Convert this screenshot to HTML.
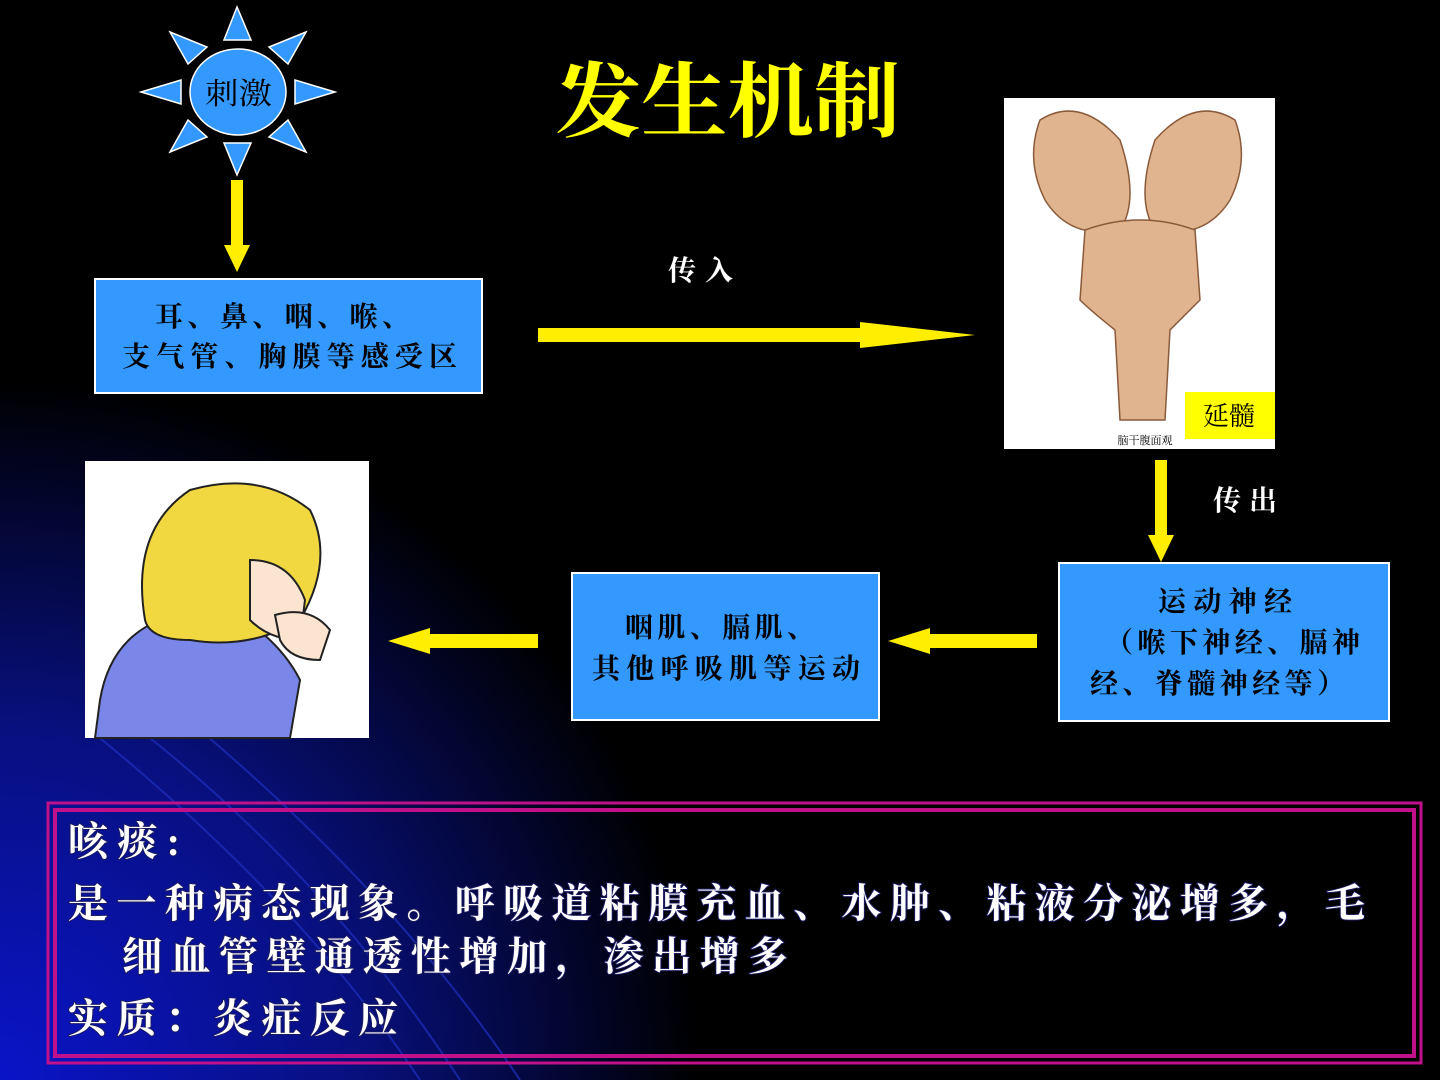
<!DOCTYPE html>
<html><head><meta charset="utf-8"><style>
body{margin:0;width:1440px;height:1080px;overflow:hidden;background:#000;}
svg{display:block}
text{font-family:"Liberation Serif","Noto Serif CJK SC",serif;}
</style></head><body>
<svg width="1440" height="1080" viewBox="0 0 1440 1080">
<defs>
<radialGradient id="bg" cx="0" cy="1080" r="700" gradientUnits="userSpaceOnUse">
<stop offset="0" stop-color="#0a14c8"/><stop offset="0.5" stop-color="#081080"/><stop offset="1" stop-color="#000"/>
</radialGradient>
</defs>
<rect width="1440" height="1080" fill="#000"/>
<rect width="1440" height="1080" fill="url(#bg)"/>
<g fill="none" stroke="#2030c0" stroke-width="2" opacity="0.7">
<path d="M90 730 Q300 900 420 1080"/><path d="M140 730 Q330 880 460 1080"/><path d="M200 730 Q400 900 520 1080"/>
</g>
<!-- sun -->
<g fill="#3399ff" stroke="#fff" stroke-width="1.5">
<polygon points="237,7 224,40 251,40"/>
<polygon points="237,175 224,143 251,143"/>
<polygon points="141,92 181,80 181,104"/>
<polygon points="335,92 295,80 295,104"/>
<polygon points="170,32 207,47 188,64"/>
<polygon points="306,32 269,47 288,64"/>
<polygon points="170,152 207,137 188,120"/>
<polygon points="306,152 269,137 288,120"/>
<ellipse cx="238" cy="92" rx="48" ry="43"/>
</g>
<text x="205" y="104" font-size="30" fill="#000" textLength="67" lengthAdjust="spacingAndGlyphs">刺激</text>
<!-- title -->
<text x="555" y="130" font-size="82" font-weight="bold" fill="#ffff00" font-family="'Liberation Sans','Noto Sans CJK SC',sans-serif" textLength="345" lengthAdjust="spacingAndGlyphs">发生机制</text>
<!-- arrows -->
<g fill="#ffee00">
<rect x="231" y="180" width="12" height="65"/><polygon points="224,245 250,245 237,272"/>
<rect x="538" y="328" width="325" height="14"/><polygon points="860,322 975,335 860,348"/>
<rect x="1155" y="460" width="12" height="75"/><polygon points="1148,535 1174,535 1161,562"/>
<rect x="930" y="634" width="107" height="14"/><polygon points="930,628 888,641 930,654"/>
<rect x="430" y="634" width="108" height="14"/><polygon points="430,628 388,641 430,654"/>
</g>
<text x="668" y="280" font-size="28" fill="#fff" font-weight="bold" textLength="65">传入</text>
<text x="1213" y="510" font-size="28" fill="#fff" font-weight="bold" textLength="64">传出</text>
<!-- boxes -->
<g font-weight="bold" fill="#000" font-size="28">
<rect x="95" y="279" width="387" height="114" fill="#3399ff" stroke="#fff" stroke-width="2"/>
<text x="155" y="326" textLength="255">耳、鼻、咽、喉、</text>
<text x="122" y="366" textLength="335">支气管、胸膜等感受区</text>
<rect x="572" y="573" width="307" height="147" fill="#3399ff" stroke="#fff" stroke-width="2"/>
<text x="625" y="637" textLength="190">咽肌、膈肌、</text>
<text x="592" y="678" textLength="268">其他呼吸肌等运动</text>
<rect x="1059" y="563" width="330" height="158" fill="#3399ff" stroke="#fff" stroke-width="2"/>
<text x="1158" y="611" textLength="134">运动神经</text>
<text x="1105" y="652" textLength="255">（喉下神经、膈神</text>
<text x="1090" y="693" textLength="255">经、脊髓神经等）</text>
</g>
<!-- brain image -->
<rect x="1004" y="98" width="271" height="351" fill="#fff"/>
<g fill="#e0b48e" stroke="#8a5a3a" stroke-width="1.5">
<path d="M1040 120 Q1080 95 1120 140 Q1140 200 1120 230 Q1070 240 1045 200 Q1025 160 1040 120Z"/>
<path d="M1235 120 Q1195 95 1155 140 Q1135 200 1155 230 Q1205 240 1230 200 Q1250 160 1235 120Z"/>
<path d="M1085 230 Q1140 210 1195 230 L1200 300 Q1180 320 1170 330 L1165 420 L1120 420 L1115 330 Q1090 310 1080 300Z"/>
</g>
<rect x="1185" y="392" width="90" height="47" fill="#ffff00"/>
<text x="1229" y="425" font-size="26" text-anchor="middle" fill="#000" font-family="'Liberation Sans','Noto Sans CJK SC',sans-serif">延髓</text>
<text x="1145" y="444" font-size="11" text-anchor="middle" fill="#000" font-family="'Liberation Sans','Noto Sans CJK SC',sans-serif">脑干腹面观</text>
<!-- girl image -->
<rect x="85" y="461" width="284" height="277" fill="#fff"/>
<path d="M100 700 Q110 640 160 620 L230 610 Q280 640 300 680 L290 738 L95 738Z" fill="#7a86e8" stroke="#222" stroke-width="2"/>
<path d="M145 620 Q130 530 190 490 Q260 470 310 510 Q335 560 300 620 Q250 650 190 640 Q150 640 145 620Z" fill="#f2d840" stroke="#222" stroke-width="2"/>
<path d="M250 560 Q290 560 305 600 L300 640 Q270 640 250 620Z" fill="#fbe4d0" stroke="#222" stroke-width="2"/>
<path d="M275 615 Q310 605 330 630 L320 660 Q290 660 280 640Z" fill="#fbe4d0" stroke="#222" stroke-width="2"/>
<!-- bottom box -->
<rect x="48" y="803" width="1373" height="260" fill="none" stroke="#c0108a" stroke-width="3"/>
<rect x="55" y="810" width="1359" height="246" fill="none" stroke="#c0108a" stroke-width="4"/>
<g fill="#fff" font-size="40" font-weight="bold" style="paint-order:stroke" stroke="#1a1a60" stroke-width="2">
<text x="68" y="855" textLength="112">咳痰:</text>
<text x="68" y="917" textLength="1297">是一种病态现象。呼吸道粘膜充血、水肿、粘液分泌增多，毛</text>
<text x="122" y="970" textLength="666">细血管壁通透性增加，渗出增多</text>
<text x="68" y="1032" textLength="330">实质：炎症反应</text>
</g>
</svg>
</body></html>
